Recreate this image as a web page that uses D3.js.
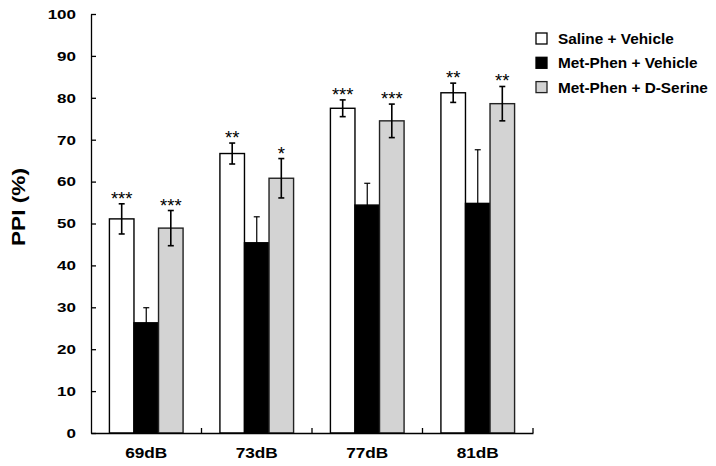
<!DOCTYPE html>
<html>
<head>
<meta charset="utf-8">
<script src="https://cdn.jsdelivr.net/npm/d3@7/dist/d3.min.js"></script>
<style>
  html, body { margin: 0; padding: 0; background: #fff; }
  svg { display: block; }
  text { font-family: "Liberation Sans", Arial, sans-serif; }
</style>
</head>
<body>
<svg id="chart" width="716" height="466"></svg>
<script>
const categories = ["69dB", "73dB", "77dB", "81dB"];
const seriesNames = ["Saline + Vehicle", "Met-Phen + Vehicle", "Met-Phen + D-Serine"];
const salineVehicle = [51.1, 66.7, 77.5, 81.2];
const salineVehicleErr = [3.6, 2.5, 2.0, 2.3];
const metPhenVehicle = [26.3, 45.4, 54.4, 54.8];
const metPhenVehicleErr = [3.6, 6.2, 5.2, 12.8];
const metPhenDSerine = [48.9, 60.8, 74.5, 78.6];
const metPhenDSerineErr = [4.2, 4.7, 4.0, 4.1];
const salineStars = ["***", "**", "***", "**"];
const metPhenVehicleStars = ["", "", "", ""];
const dSerineStars = ["***", "*", "***", "**"];
const yTicks = [0, 10, 20, 30, 40, 50, 60, 70, 80, 90, 100];

(function () {
const fills = ["#ffffff", "#000000", "#d3d3d3"];
const strokes = ["#000000", "#000000", "#222222"];
const wide = 1.26;

const series = [
  { name: seriesNames[0], values: salineVehicle, errs: salineVehicleErr, stars: salineStars },
  { name: seriesNames[1], values: metPhenVehicle, errs: metPhenVehicleErr, stars: metPhenVehicleStars },
  { name: seriesNames[2], values: metPhenDSerine, errs: metPhenDSerineErr, stars: dSerineStars }
];

const svg = d3.select("#chart");
const mLeft = 91, mRight = 533, mTop = 14, mBottom = 433;

const x0 = d3.scaleBand().domain(categories).range([mLeft, mRight]).paddingInner(0).paddingOuter(0);
const x1 = d3.scaleBand().domain(seriesNames).range([0, x0.bandwidth()]).paddingInner(0).paddingOuter(0.75);
const y = d3.scaleLinear().domain([0, 100]).range([mBottom, mTop]);

// bars
series.forEach((s, si) => {
  const g = svg.append("g");
  g.selectAll("rect").data(categories).join("rect")
    .attr("x", c => x0(c) + x1(s.name))
    .attr("y", (c, i) => y(s.values[i]))
    .attr("width", x1.bandwidth())
    .attr("height", (c, i) => y(0) - y(s.values[i]))
    .attr("fill", fills[si])
    .attr("stroke", strokes[si])
    .attr("stroke-width", 1.4);
});

// error bars and stars
series.forEach((s, si) => {
  const g = svg.append("g");
  const sw = si === 1 ? 1.2 : 1.6;
  categories.forEach((c, i) => {
    const cx = x0(c) + x1(s.name) + x1.bandwidth() / 2;
    const hi = y(s.values[i] + s.errs[i]);
    const lo = y(s.values[i] - s.errs[i]);
    g.append("line").attr("x1", cx).attr("x2", cx).attr("y1", hi).attr("y2", lo)
      .attr("stroke", "#000").attr("stroke-width", sw);
    g.append("line").attr("x1", cx - 3).attr("x2", cx + 3).attr("y1", hi).attr("y2", hi)
      .attr("stroke", "#000").attr("stroke-width", sw);
    g.append("line").attr("x1", cx - 3).attr("x2", cx + 3).attr("y1", lo).attr("y2", lo)
      .attr("stroke", "#000").attr("stroke-width", sw);
    if (s.stars[i]) {
      g.append("text").attr("x", cx).attr("y", hi + 1)
        .attr("text-anchor", "middle")
        .attr("font-size", 18.5)
        .attr("fill", "#000")
        .text(s.stars[i]);
    }
  });
});

// y axis
const yAxis = svg.append("g").attr("transform", `translate(${mLeft},0)`)
  .call(d3.axisLeft(y).tickValues(yTicks).tickSizeInner(-5).tickSizeOuter(0).tickPadding(15));
yAxis.select(".domain").attr("stroke", "#000").attr("stroke-width", 1.3);
yAxis.selectAll(".tick line").attr("stroke", "#000").attr("stroke-width", 1.3);
yAxis.selectAll(".tick text")
  .attr("font-weight", "bold")
  .attr("font-size", 13.5)
  .attr("fill", "#000")
  .attr("x", -15 / wide)
  .attr("transform", `scale(${wide},1)`);

// x axis
const xAxis = svg.append("g").attr("transform", `translate(0,${mBottom})`)
  .call(d3.axisBottom(x0).tickSize(0).tickSizeOuter(0).tickPadding(15));
xAxis.select(".domain").attr("stroke", "#000").attr("stroke-width", 1.3);
xAxis.selectAll(".tick text")
  .attr("font-weight", "bold")
  .attr("font-size", 14)
  .attr("fill", "#000")
  .attr("transform", `scale(1.23,1)`);
xAxis.selectAll(".sep").data(categories).join("line")
  .attr("class", "sep")
  .attr("x1", c => x0(c) + x0.bandwidth())
  .attr("x2", c => x0(c) + x0.bandwidth())
  .attr("y1", 0).attr("y2", -5)
  .attr("stroke", "#000").attr("stroke-width", 1.3);

// y label
svg.append("text")
  .attr("transform", `translate(25,207) rotate(-90) scale(${wide},1)`)
  .attr("text-anchor", "middle")
  .attr("font-weight", "bold")
  .attr("font-size", 18)
  .attr("fill", "#000")
  .text("PPI (%)");

// legend
const legend = svg.append("g").attr("transform", "translate(536,33)");
seriesNames.forEach((n, i) => {
  const row = legend.append("g").attr("transform", `translate(0,${i * 24.3})`);
  row.append("rect").attr("x", 0).attr("y", 0).attr("width", 11).attr("height", 11)
    .attr("fill", fills[i]).attr("stroke", strokes[i]).attr("stroke-width", 1.3);
  row.append("text").attr("transform", "translate(22,11) scale(1.06,1)")
    .attr("font-weight", "bold").attr("font-size", 14.5).attr("fill", "#000")
    .text(n);
});
})();
</script>
</body>
</html>
